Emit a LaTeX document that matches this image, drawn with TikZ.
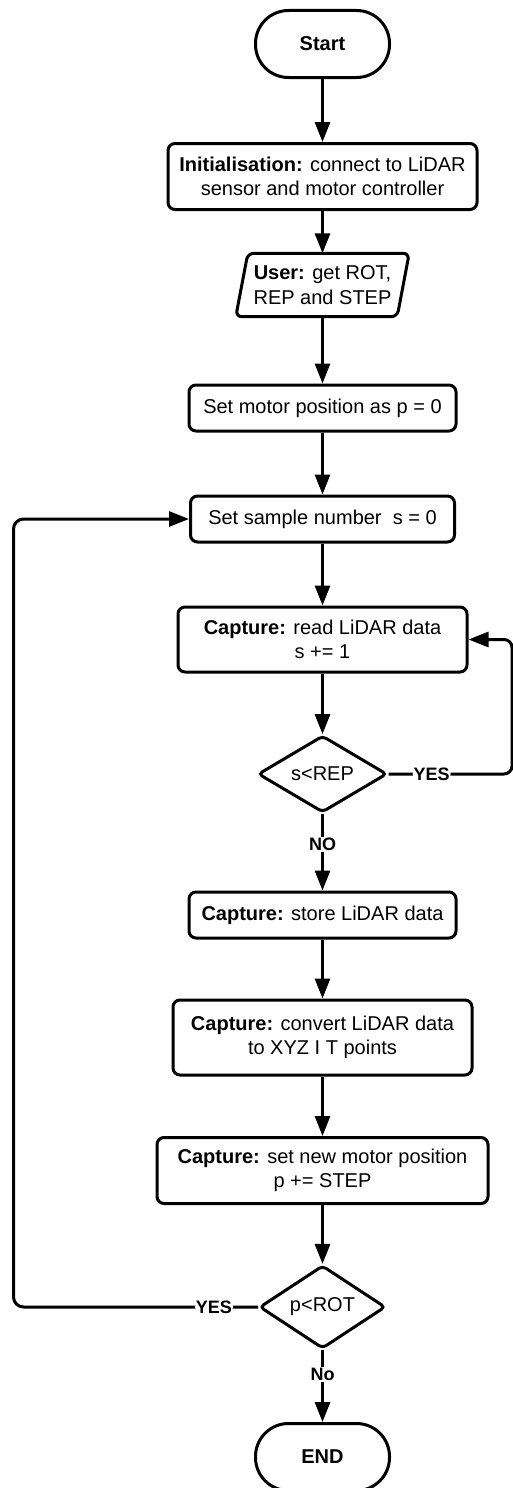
\documentclass[tikz,border=0pt]{standalone}
\usepackage{fontspec}
\setmainfont{Liberation Sans}
\usetikzlibrary{shapes.geometric,arrows.meta}

\begin{document}
\begin{tikzpicture}[x=1pt,y=-1pt,
  every node/.style={font=\fontsize{20}{24.5}\selectfont},
  flow/.style={draw, line width=3pt},
  procbox/.style={rectangle, draw, line width=3pt, rounded corners=7pt, align=center, inner sep=0pt},
  termbox/.style={rectangle, draw, line width=3pt, rounded corners=33pt,
    minimum width=134pt, minimum height=67pt, font=\fontsize{20}{24.5}\selectfont\bfseries},
  decbox/.style={diamond, draw, line width=3pt, rounded corners=4pt, inner sep=0pt},
  arr/.style={line width=3pt, -{Triangle[length=20pt,width=15pt]}},
  lbl/.style={fill=white, inner sep=1pt, font=\fontsize{18}{21}\selectfont\bfseries}
]
\useasboundingbox (0,0) rectangle (512,1488);

% main column of steps
\node[termbox] (start) at (322.5,44) {Start};
\node[procbox, minimum width=309pt, minimum height=66pt] (init) at (322.5,176.5)
  {\textbf{Initialisation:} connect to LiDAR\\sensor and motor controller};
\node[minimum width=161pt, minimum height=63pt, inner sep=0pt, align=center] (user) at (322.5,285)
  {\textbf{User:} get ROT,\\REP and STEP};
\draw[flow, rounded corners=6pt] (user.north) -- ([xshift=6pt]user.north east)
  -- ([xshift=-6pt]user.south east) -- ([xshift=-6pt]user.south west)
  -- ([xshift=6pt]user.north west) -- cycle;
\node[procbox, minimum width=267pt, minimum height=46pt] (motor) at (322.5,408)
  {Set motor position as p = 0};
\node[procbox, minimum width=264pt, minimum height=46pt] (sample) at (322.5,519)
  {Set sample number\ \ s = 0};
\node[procbox, minimum width=289pt, minimum height=65pt] (read) at (322.5,639.5)
  {\textbf{Capture:} read LiDAR data\\s += 1};
\node[decbox, minimum width=129pt, minimum height=71pt] (srep) at (322.5,774) {s<REP};
\node[procbox, minimum width=267pt, minimum height=46pt] (store) at (322.5,915)
  {\textbf{Capture:} store LiDAR data};
\node[procbox, minimum width=299pt, minimum height=75pt] (convert) at (322.5,1037.5)
  {\textbf{Capture:} convert LiDAR data\\to XYZ I T points};
\node[procbox, minimum width=331pt, minimum height=66pt] (setpos) at (322.5,1170.5)
  {\textbf{Capture:} set new motor position\\p += STEP};
\node[decbox, minimum width=126pt, minimum height=70pt] (prot) at (322.5,1307) {p<ROT};
\node[termbox] (finish) at (322.5,1457) {END};

% straight connectors
\draw[arr] (start) -- (init);
\draw[arr] (init) -- (user);
\draw[arr] (user) -- (motor);
\draw[arr] (motor) -- (sample);
\draw[arr] (sample) -- (read);
\draw[arr] (read) -- (srep);
\draw[arr] (srep) -- node[lbl, pos=0.4] {NO} (store);
\draw[arr] (store) -- (convert);
\draw[arr] (convert) -- (setpos);
\draw[arr] (setpos) -- (prot);
\draw[arr] (prot) -- node[lbl, pos=0.34] {No} (finish);

% inner loop: repeat sampling
\coordinate (rbot) at (512,774);
\coordinate (rtop) at (512,639.5);
\draw[arr, rounded corners=8pt] (srep.east) -- node[lbl, pos=0.35] {YES} (rbot)
  -- (rtop) -- (read.east);

% outer loop: next motor position
\coordinate (lbot) at (13.5,1307);
\coordinate (ltop) at (13.5,519);
\draw[arr, rounded corners=10pt] (prot.west) -- node[lbl, pos=0.18] {YES} (lbot)
  -- (ltop) -- (sample.west);
\end{tikzpicture}
\end{document}
